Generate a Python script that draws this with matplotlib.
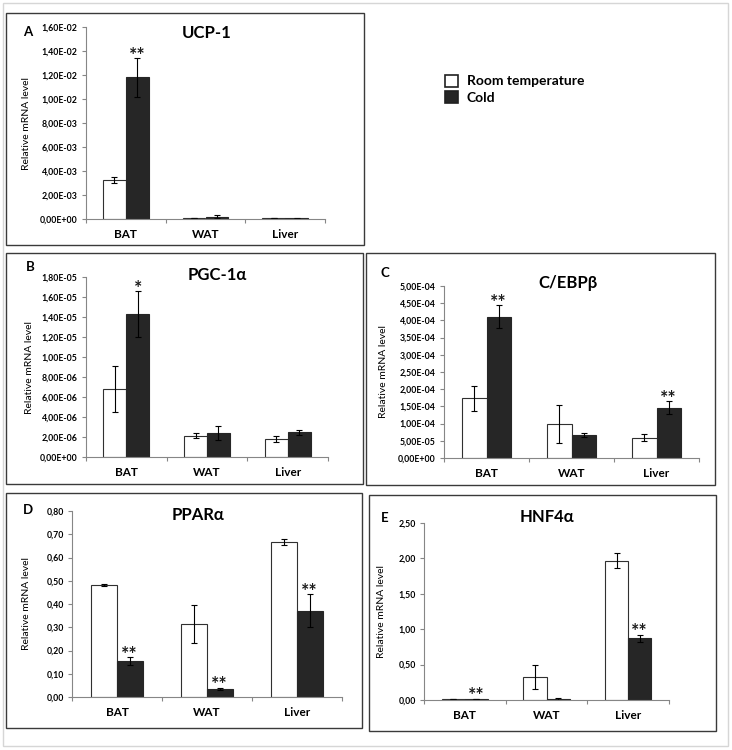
import matplotlib
matplotlib.use('Agg')
from matplotlib import pyplot as plt
from matplotlib.patches import Rectangle, Patch

plt.rcParams['font.family'] = ['Lato', 'DejaVu Sans']

# data
tissues = ['BAT', 'WAT', 'Liver']

ucp1_rt = [3.25e-3, 0.08e-3, 0.10e-3]
ucp1_rt_err = [0.27e-3, 0.02e-3, 0.01e-3]
ucp1_cold = [1.18e-2, 0.20e-3, 0.05e-3]
ucp1_cold_err = [0.16e-2, 0.15e-3, 0.01e-3]
ucp1_sig = ['**', '', '']

pgc_rt = [6.8e-6, 2.1e-6, 1.75e-6]
pgc_rt_err = [2.3e-6, 0.25e-6, 0.3e-6]
pgc_cold = [1.43e-5, 2.4e-6, 2.47e-6]
pgc_cold_err = [2.3e-6, 0.73e-6, 0.27e-6]
pgc_sig = ['*', '', '']

cebpb_rt = [1.74e-4, 9.9e-5, 5.95e-5]
cebpb_rt_err = [3.6e-5, 5.5e-5, 1.1e-5]
cebpb_cold = [4.11e-4, 6.8e-5, 1.46e-4]
cebpb_cold_err = [3.3e-5, 0.6e-5, 1.85e-5]
cebpb_sig = ['**', '', '**']

ppara_rt = [0.481, 0.315, 0.667]
ppara_rt_err = [0.004, 0.082, 0.014]
ppara_cold = [0.154, 0.034, 0.371]
ppara_cold_err = [0.017, 0.006, 0.071]
ppara_sig = ['**', '**', '**']

hnf4a_rt = [0.01, 0.321, 1.966]
hnf4a_rt_err = [0.002, 0.168, 0.105]
hnf4a_cold = [0.015, 0.015, 0.869]
hnf4a_cold_err = [0.003, 0.01, 0.05]
hnf4a_sig = ['**', '', '**']

W, H = 732, 750
DARK = '#262626'
GREY = '#868686'


def px_rect(x0, y0, x1, y1):
    return [x0 / W, 1 - y1 / H, (x1 - x0) / W, (y1 - y0) / H]


def sci_fmt(v, pos):
    return ('%.2E' % v).replace('.', ',')


def dec_fmt(v, pos):
    return ('%.2f' % v).replace('.', ',')


def panel(fig, box, axrect, letter, letter_xy, title, title_xy, ylab_x,
          rt, rt_err, cold, cold_err, sig, ymax, ystep, fmt):
    # frame around panel
    bx0, by0, bx1, by1 = box
    fig.add_artist(Rectangle((bx0 / W, 1 - by1 / H), (bx1 - bx0) / W, (by1 - by0) / H,
                             transform=fig.transFigure, fill=False,
                             edgecolor='#3a3a3a', linewidth=1.0))
    ax = fig.add_axes(px_rect(*axrect))
    x = list(range(len(tissues)))
    w = 0.285
    ax.bar([i - w / 2 for i in x], rt, w, color='white', edgecolor='#303030',
           linewidth=0.8, yerr=rt_err, error_kw=dict(ecolor='black', elinewidth=0.8,
                                                     capsize=2, capthick=0.8))
    ax.bar([i + w / 2 for i in x], cold, w, color=DARK, edgecolor=DARK,
           linewidth=0.8, yerr=cold_err, error_kw=dict(ecolor='black', elinewidth=0.8,
                                                       capsize=2, capthick=0.8))
    for i, s in enumerate(sig):
        if s:
            ax.annotate(s, (i + w / 2, cold[i] + cold_err[i]), xytext=(0, -4),
                        textcoords='offset points', ha='center', va='bottom',
                        fontsize=14, fontweight='bold', color='#1a1a1a')
    ax.set_xlim(-0.5, len(tissues) - 0.5)
    ax.set_ylim(0, ymax)
    n = int(round(ymax / ystep))
    ax.set_yticks([k * ystep for k in range(n + 1)])
    ax.yaxis.set_major_formatter(plt.FuncFormatter(fmt))
    ax.set_xticks([-0.5 + k for k in range(len(tissues) + 1)])
    ax.set_xticklabels([])
    ax.set_xticks(x, minor=True)
    ax.set_xticklabels(tissues, minor=True, fontsize=8.5, fontweight='bold')
    ax.tick_params(axis='x', which='minor', length=0, pad=7)
    ax.tick_params(axis='x', which='major', length=3, color=GREY, width=0.8)
    ax.tick_params(axis='y', length=3, color=GREY, width=0.8, pad=3, labelsize=6.3)
    for lab in ax.get_yticklabels():
        lab.set_fontweight('bold')
    for side in ['top', 'right']:
        ax.spines[side].set_visible(False)
    for side in ['left', 'bottom']:
        ax.spines[side].set_color(GREY)
        ax.spines[side].set_linewidth(0.8)
    ax.patch.set_alpha(0)
    fig.text(letter_xy[0] / W, 1 - letter_xy[1] / H, letter, fontsize=9.5,
             fontweight='bold', ha='center', va='center')
    fig.text(title_xy[0] / W, 1 - title_xy[1] / H, title, fontsize=12,
             fontweight='bold', ha='center', va='center')
    yc = (axrect[1] + axrect[3]) / 2
    fig.text(ylab_x / W, 1 - yc / H, 'Relative mRNA level', fontsize=7.5,
             rotation=90, ha='center', va='center')
    return ax


fig = plt.figure(figsize=(7.32, 7.5), dpi=100)

# light outer frame
fig.add_artist(Rectangle((3 / W, 1 - 746 / H), 725 / W, 743 / H,
                         transform=fig.transFigure, fill=False,
                         edgecolor='#d6d6d6', linewidth=1.0))

panel(fig, (6, 13, 364, 245), (86, 27, 325, 219), 'A', (28, 32), 'UCP-1', (207, 33), 27,
      ucp1_rt, ucp1_rt_err, ucp1_cold, ucp1_cold_err, ucp1_sig, 0.016, 0.002, sci_fmt)
panel(fig, (6, 253, 363, 484), (86, 277, 328, 457), 'B', (30, 267), 'PGC-1α', (217, 275), 30,
      pgc_rt, pgc_rt_err, pgc_cold, pgc_cold_err, pgc_sig, 1.8e-5, 2e-6, sci_fmt)
panel(fig, (366, 253, 715, 485), (444, 286, 699, 458), 'C', (385, 273), 'C/EBPβ', (568, 283), 383,
      cebpb_rt, cebpb_rt_err, cebpb_cold, cebpb_cold_err, cebpb_sig, 5e-4, 5e-5, sci_fmt)
panel(fig, (6, 493, 362, 728), (72, 511, 342, 697), 'D', (28, 510), 'PPARα', (198, 515), 27,
      ppara_rt, ppara_rt_err, ppara_cold, ppara_cold_err, ppara_sig, 0.8, 0.1, dec_fmt)
panel(fig, (369, 495, 716, 731), (424, 523, 669, 700), 'E', (385, 518), 'HNF4α', (547, 517), 382,
      hnf4a_rt, hnf4a_rt_err, hnf4a_cold, hnf4a_cold_err, hnf4a_sig, 2.5, 0.5, dec_fmt)

handles = [Patch(facecolor='white', edgecolor='#202020', linewidth=1.2),
           Patch(facecolor=DARK, edgecolor='#202020', linewidth=1.2)]
fig.legend(handles, ['Room temperature', 'Cold'], loc='upper left',
           bbox_to_anchor=(432 / W, 1 - 62 / H), frameon=False,
           prop={'size': 10, 'weight': 'bold'}, handlelength=1.0, handleheight=1.0,
           handletextpad=0.6, labelspacing=0.25)

fig.savefig('out.png', dpi=100)
